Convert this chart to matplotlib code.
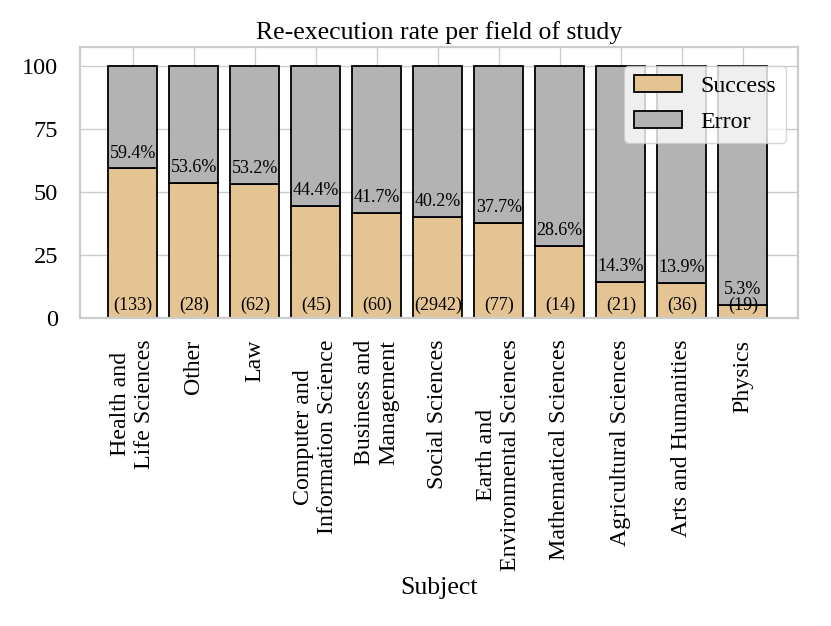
import matplotlib
matplotlib.use("Agg")
import matplotlib.pyplot as plt
import seaborn as sns
import numpy as np

subjects = ["Health and\nLife Sciences", "Other", "Law", "Computer and\nInformation Science",
            "Business and\nManagement", "Social Sciences", "Earth and\nEnvironmental Sciences",
            "Mathematical Sciences", "Agricultural Sciences", "Arts and Humanities", "Physics"]
success = [59.4, 53.6, 53.2, 44.4, 41.7, 40.2, 37.7, 28.6, 14.3, 13.9, 5.3]
counts = [133, 28, 62, 45, 60, 2942, 77, 14, 21, 36, 19]
error = [100 - s for s in success]

sns.set_theme(style="whitegrid")
plt.rcParams['font.family'] = ['Liberation Serif', 'DejaVu Serif']
plt.rcParams['text.color'] = 'black'
plt.rcParams['xtick.color'] = 'black'
plt.rcParams['ytick.color'] = 'black'
plt.rcParams['axes.labelcolor'] = 'black'

fig = plt.figure(figsize=(8.31, 6.26), dpi=100)
ax = fig.add_axes([0.096, 0.492, 0.864, 0.433])
x = np.arange(len(subjects))
ax.bar(x, success, width=0.8, color="#e5c494", edgecolor="black", linewidth=1.3, label="Success")
ax.bar(x, error, bottom=success, width=0.8, color="#b3b3b3", edgecolor="black", linewidth=1.3, label="Error")
for xi, s, c in zip(x, success, counts):
    ax.text(xi, s + 2.6, f"{s:.1f}%", ha="center", va="bottom", fontsize=13)
    ax.text(xi, 1.5, f"({c})", ha="center", va="bottom", fontsize=13)
ax.set_ylim(0, 107.5)
ax.set_xlim(-0.87, 10.9)
ax.set_yticks([0, 25, 50, 75, 100])
ax.set_xticks(x)
ax.set_xticklabels(subjects, rotation=90, fontsize=17.2, ha="center", multialignment="center")
ax.tick_params(axis="both", length=0, pad=15.5)
ax.tick_params(axis="y", labelsize=17.5)
for sp in ax.spines.values():
    sp.set_color("#cccccc")
    sp.set_linewidth(1.6)
ax.set_xlabel("Subject", fontsize=18.5)
ax.set_title("Re-execution rate per field of study", fontsize=18.5, pad=6)
ax.legend(loc="upper right", bbox_to_anchor=(1.0, 0.975), fontsize=17.2, frameon=True,
          labelspacing=0.6)
fig.savefig("out.png", dpi=100)
